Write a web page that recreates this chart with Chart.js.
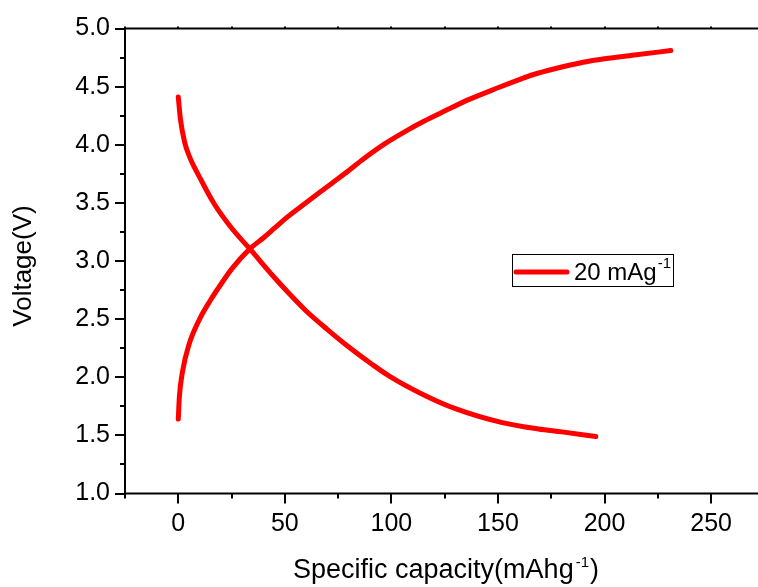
<!DOCTYPE html>
<html>
<head>
<meta charset="utf-8">
<title>Voltage vs specific capacity</title>
<script src="https://cdn.jsdelivr.net/npm/chart.js@4.4.1/dist/chart.umd.min.js"></script>
<style>
  html, body { margin: 0; padding: 0; background: #fff; overflow: hidden; }
  #chart { display: block; }
</style>
</head>
<body>
<canvas id="chart" width="758" height="587"></canvas>
<script>
// Charge curve (voltage rising)
const capacityCharge = [0, 0.5, 2, 5, 10, 15, 20, 25, 33.3, 40, 45, 50, 57, 67, 78, 87, 97, 107, 115, 125, 136.5, 150, 160, 166, 178, 190, 200, 213, 231.1];
const voltageCharge  = [1.64, 1.83, 2.05, 2.28, 2.50, 2.66, 2.80, 2.93, 3.10, 3.20, 3.28, 3.36, 3.46, 3.60, 3.75, 3.88, 4.01, 4.12, 4.20, 4.29, 4.39, 4.49, 4.56, 4.60, 4.66, 4.71, 4.74, 4.77, 4.81];

// Discharge curve (voltage falling)
const capacityDischarge = [0, 1, 3, 5.2, 10.6, 16.9, 24.7, 33.3, 45, 52, 60, 70, 80, 91, 99, 115, 130, 152, 169, 180, 195.9];
const voltageDischarge  = [4.41, 4.22, 4.02, 3.90, 3.70, 3.49, 3.29, 3.11, 2.86, 2.72, 2.57, 2.41, 2.26, 2.11, 2.01, 1.85, 1.73, 1.61, 1.555, 1.53, 1.49];

const xTickLabels = [0, 50, 100, 150, 200, 250];
const yTickLabels = [1.0, 1.5, 2.0, 2.5, 3.0, 3.5, 4.0, 4.5, 5.0];
const legendText = "20 mAg";
const legendSup = "-1";
const xTitle = "Specific capacity(mAhg";
const xTitleSup = "-1";
const yTitle = "Voltage(V)";

const RED = "#ff0000";
const FONT = "'Liberation Sans', Arial, sans-serif";

const toPoints = (xs, ys) => xs.map((x, i) => ({ x, y: ys[i] }));

// axis frame, tick marks, titles and the little legend box
const decorations = {
  id: "decorations",
  afterDraw(chart) {
    const { ctx, chartArea: a, scales: { x, y } } = chart;
    ctx.save();
    ctx.strokeStyle = "#000";
    ctx.lineWidth = 2;
    ctx.lineCap = "butt";

    // left, bottom and top axis lines; the plot is cut off on the right like the original
    ctx.beginPath();
    ctx.moveTo(a.left, a.top); ctx.lineTo(a.right, a.top);
    ctx.moveTo(a.left, a.top - 1); ctx.lineTo(a.left, a.bottom + 1);
    ctx.moveTo(a.left - 1, a.bottom); ctx.lineTo(a.right, a.bottom);

    // x ticks every 25, long ones every 50
    for (let v = x.min; v <= x.max - 5; v += 25) {
      const px = Math.round(x.getPixelForValue(v));
      const len = v % 50 === 0 ? 10 : 5;
      ctx.moveTo(px, a.bottom); ctx.lineTo(px, a.bottom + len);
      ctx.moveTo(px, a.top); ctx.lineTo(px, a.top - 2);
    }
    // y ticks every 0.25, long ones every 0.5
    for (let v = y.min; v <= y.max + 1e-6; v += 0.25) {
      const py = Math.round(y.getPixelForValue(v));
      const major = Math.abs(v * 2 - Math.round(v * 2)) < 1e-6;
      ctx.moveTo(a.left, py); ctx.lineTo(a.left - (major ? 10 : 5), py);
    }
    ctx.stroke();

    // x axis title with superscript, centred under the plot
    ctx.fillStyle = "#000";
    ctx.textBaseline = "alphabetic";
    ctx.textAlign = "left";
    ctx.font = "27px " + FONT;
    const w1 = ctx.measureText(xTitle).width;
    const w3 = ctx.measureText(")").width;
    ctx.font = "15px " + FONT;
    const w2 = ctx.measureText(xTitleSup).width;
    let tx = 446 - (w1 + w2 + w3 + 3) / 2;
    ctx.font = "27px " + FONT;
    ctx.fillText(xTitle, tx, 578);
    tx += w1 + 2;
    ctx.font = "15px " + FONT;
    ctx.fillText(xTitleSup, tx, 567);
    tx += w2 + 1;
    ctx.font = "27px " + FONT;
    ctx.fillText(")", tx, 578);

    // y axis title, rotated
    ctx.save();
    ctx.translate(31, 266);
    ctx.rotate(-Math.PI / 2);
    ctx.textAlign = "center";
    ctx.font = "26px " + FONT;
    ctx.fillText(yTitle, 0, 0);
    ctx.restore();

    // legend
    ctx.lineWidth = 1;
    ctx.strokeRect(512.5, 254.5, 161, 32);
    ctx.strokeStyle = RED;
    ctx.lineWidth = 5;
    ctx.lineCap = "round";
    ctx.beginPath();
    ctx.moveTo(516, 272); ctx.lineTo(567, 272);
    ctx.stroke();
    ctx.font = "24px " + FONT;
    ctx.fillText(legendText, 574, 280);
    const lw = ctx.measureText(legendText).width;
    ctx.font = "15px " + FONT;
    ctx.fillText(legendSup, 574 + lw + 1, 268);
    ctx.restore();
  }
};

const lineStyle = {
  borderColor: RED,
  borderWidth: 5,
  borderCapStyle: "round",
  borderJoinStyle: "round",
  pointRadius: 0,
  cubicInterpolationMode: "monotone",
  fill: false
};

new Chart(document.getElementById("chart").getContext("2d"), {
  type: "line",
  data: {
    datasets: [
      { label: legendText + legendSup, data: toPoints(capacityCharge, voltageCharge), ...lineStyle },
      { label: "discharge", data: toPoints(capacityDischarge, voltageDischarge), ...lineStyle }
    ]
  },
  options: {
    responsive: false,
    animation: false,
    layout: { padding: { top: 28.5, right: 0, left: 0, bottom: 0 } },
    plugins: { legend: { display: false }, tooltip: { enabled: false } },
    scales: {
      x: {
        type: "linear",
        min: -25,
        max: 272,
        grid: { display: false, drawTicks: false },
        border: { display: false },
        // keep the labelled ticks only, so 250 is not swallowed by the axis end
        afterBuildTicks: (s) => { s.ticks = xTickLabels.map((value) => ({ value })); },
        afterFit: (s) => { s.height = 93.5; s.paddingLeft = 0; s.paddingRight = 0; },
        ticks: {
          autoSkip: false,
          maxRotation: 0,
          padding: 16,
          color: "#000",
          font: { family: FONT, size: 25 },
          callback: (v) => String(v)
        }
      },
      y: {
        min: 1,
        max: 5,
        grid: { display: false, drawTicks: false },
        border: { display: false },
        afterFit: (s) => { s.width = 125; s.paddingTop = 0; s.paddingBottom = 0; },
        ticks: {
          stepSize: 0.5,
          padding: 15,
          color: "#000",
          font: { family: FONT, size: 25 },
          callback: (v) => (yTickLabels.some((t) => Math.abs(t - v) < 1e-6) ? v.toFixed(1) : "")
        }
      }
    }
  },
  plugins: [decorations]
});
</script>
</body>
</html>
